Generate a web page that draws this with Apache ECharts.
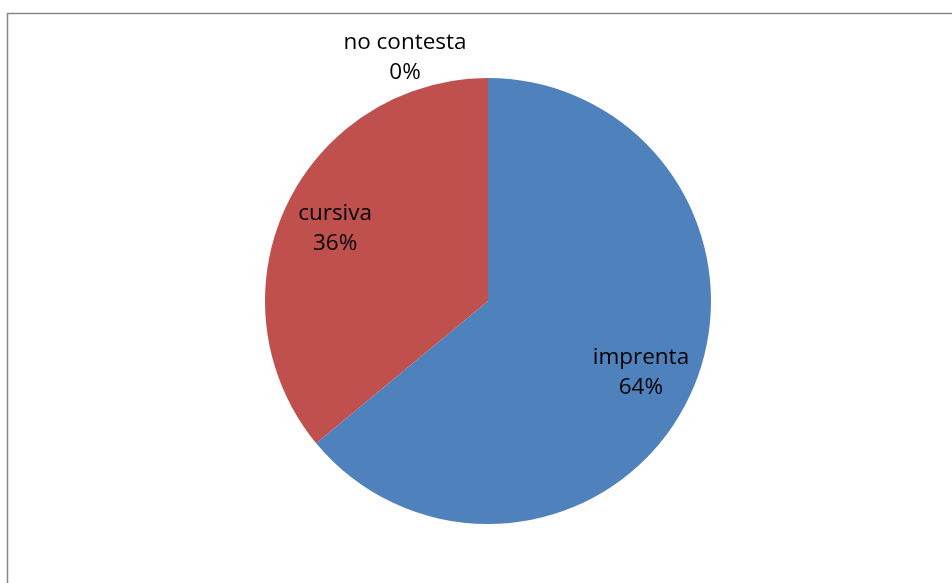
<!DOCTYPE html>
<html>
<head>
<meta charset="utf-8">
<script src="https://cdn.jsdelivr.net/npm/echarts@6/dist/echarts.min.js"></script>
<style>
html,body{margin:0;padding:0;background:#fff;}
#chart{width:952px;height:583px;}
</style>
</head>
<body>
<div id="chart"></div>
<script>
const categories = ['imprenta', 'cursiva', 'no contesta'];
const values = [64, 36, 0];
const colors = ['#4F81BD', '#C0504D', '#9BBB59'];

const FONT = 'Open Sans';
const labelText = {
  color: '#000',
  fontFamily: FONT,
  fontSize: 22.5,
  lineHeight: 30,
  formatter: '{b}\n{d}%'
};

const chart = echarts.init(document.getElementById('chart'), null, {renderer: 'canvas'});
chart.setOption({
  animation: false,
  backgroundColor: '#fff',
  color: colors,
  graphic: [{
    type: 'rect',
    shape: {x: 7.5, y: 13.5, width: 980, height: 620},
    style: {fill: 'none', stroke: '#888', lineWidth: 1.5},
    silent: true
  }],
  series: [
    {
      type: 'pie',
      center: [488, 301],
      radius: 223,
      startAngle: 90,
      clockwise: true,
      avoidLabelOverlap: false,
      itemStyle: {borderWidth: 0},
      label: Object.assign({position: 'outside', distanceToLabelLine: 0}, labelText),
      labelLine: {show: false, length: 20, length2: 0},
      labelLayout: {align: 'center', dx: -83},
      data: categories.map((c, i) => ({
        name: c, value: values[i],
        label: {show: values[i] === 0}
      }))
    },
    {
      type: 'pie',
      center: [488, 301],
      radius: [109, 223],
      startAngle: 90,
      clockwise: true,
      silent: true,
      avoidLabelOverlap: false,
      itemStyle: {color: 'rgba(0,0,0,0)', borderWidth: 0},
      label: Object.assign({position: 'inside'}, labelText),
      labelLine: {show: false},
      data: categories.map((c, i) => ({
        name: c, value: values[i],
        label: {show: values[i] > 0}
      }))
    }
  ]
});
</script>
</body>
</html>
